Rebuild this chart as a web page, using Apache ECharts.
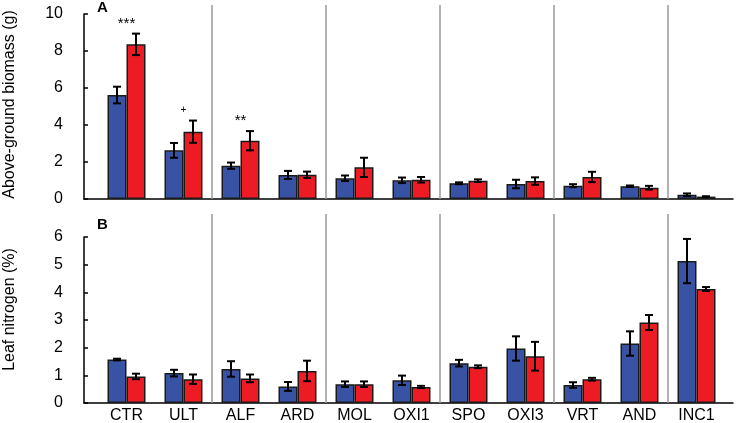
<!DOCTYPE html>
<html>
<head>
<meta charset="utf-8">
<style>
  html, body { margin: 0; padding: 0; background: #fff; }
  #chart { width: 737px; height: 423px; }
</style>
</head>
<body>
<div id="chart"></div>
<script src="https://cdn.jsdelivr.net/npm/echarts@6/dist/echarts.min.js"></script>
<script>

// data
const categories = ['CTR', 'ULT', 'ALF', 'ARD', 'MOL', 'OXI1', 'SPO', 'OXI3', 'VRT', 'AND', 'INC1'];

const biomassBlue    = [5.62, 2.63, 1.80, 1.30, 1.12, 1.01, 0.85, 0.81, 0.72, 0.69, 0.23];
const biomassBlueErr = [0.45, 0.40, 0.17, 0.22, 0.15, 0.15, 0.05, 0.23, 0.08, 0.04, 0.07];
const biomassRed     = [8.36, 3.64, 3.15, 1.31, 1.71, 1.04, 0.99, 0.97, 1.19, 0.61, 0.13];
const biomassRedErr  = [0.58, 0.60, 0.52, 0.17, 0.52, 0.15, 0.07, 0.20, 0.28, 0.10, 0.02];
const biomassSig     = ['***', '+', '**', '', '', '', '', '', '', '', ''];

const nitrogenBlue    = [1.57, 1.08, 1.23, 0.60, 0.68, 0.82, 1.44, 1.97, 0.65, 2.15, 5.13];
const nitrogenBlueErr = [0.03, 0.12, 0.28, 0.16, 0.10, 0.17, 0.12, 0.44, 0.10, 0.44, 0.80];
const nitrogenRed     = [0.96, 0.86, 0.89, 1.16, 0.68, 0.58, 1.31, 1.69, 0.86, 2.91, 4.12];
const nitrogenRedErr  = [0.10, 0.17, 0.14, 0.37, 0.10, 0.04, 0.05, 0.52, 0.05, 0.27, 0.07];

const separatorAfter = ['ULT', 'ARD', 'OXI1', 'OXI3', 'AND'];

// styles
const FONT = "'Liberation Sans', Arial, sans-serif";
const FS = 16;
const BLUE = '#3953a4';
const RED = '#ed1c24';
const BAR_W = 19;

var chart = echarts.init(document.getElementById('chart'));

// pairs [index, mean, err]
function withErr(means, errs) {
  return means.map(function (v, i) { return [i, v, errs[i]]; });
}

// error bar drawn at the centre of the blue (-1) or red (+1) bar
function errorBar(side) {
  return function (params, api) {
    var i = api.value(0), m = api.value(1), e = api.value(2);
    var x = api.coord([i, m])[0] + side * BAR_W / 2;
    var hi = api.coord([i, m + e])[1];
    var lo = api.coord([i, Math.max(m - e, 0)])[1];
    var st = { stroke: '#000', lineWidth: 2 };
    return {
      type: 'group',
      children: [
        { type: 'line', shape: { x1: x, y1: hi, x2: x, y2: lo }, style: st },
        { type: 'line', shape: { x1: x - 4, y1: hi, x2: x + 4, y2: hi }, style: st },
        { type: 'line', shape: { x1: x - 4, y1: lo, x2: x + 4, y2: lo }, style: st }
      ]
    };
  };
}

// grey dividers between groups of treatments
function separator(extraPx) {
  return function (params, api) {
    var i = api.value(0);
    var band = api.size([1, 0])[0];
    var base = api.coord([i, 0]);
    var x = base[0] + band / 2;
    var top = params.coordSys.y - extraPx;
    return {
      type: 'line',
      shape: { x1: x, y1: base[1], x2: x, y2: top },
      style: { stroke: '#9a9a9a', lineWidth: 1.5 }
    };
  };
}

function sigRender(params, api) {
  var i = api.value(0);
  var lab = biomassSig[i];
  if (!lab) return null;
  var top = Math.max(biomassBlue[i] + biomassBlueErr[i], biomassRed[i] + biomassRedErr[i]);
  var p = api.coord([i, top]);
  return {
    type: 'text',
    x: p[0],
    y: p[1] - 10,
    style: {
      text: lab,
      fontFamily: FONT,
      fontSize: lab === '+' ? 10 : 15,
      fill: '#000',
      align: 'center',
      verticalAlign: 'middle'
    }
  };
}

var sepData = separatorAfter.map(function (n) { return [categories.indexOf(n), 0]; });

function catAxis(grid, showLabels) {
  return {
    type: 'category', gridIndex: grid, data: categories,
    axisLine: { show: false }, axisTick: { show: false },
    axisLabel: { show: showLabels, color: '#000', fontFamily: FONT, fontSize: FS, margin: 5, interval: 0 },
    splitLine: { show: false }
  };
}

function valAxis(grid, max, interval, name, namePad) {
  return {
    type: 'value', gridIndex: grid, min: 0, max: max, interval: interval, offset: 14,
    name: name, nameLocation: 'middle', nameGap: 66,
    nameTextStyle: { color: '#000', fontFamily: FONT, fontSize: FS, padding: namePad },
    axisLine: { show: true, lineStyle: { color: '#000', width: 1.5 } },
    axisTick: { show: true, inside: true, length: 4, lineStyle: { color: '#000', width: 1.5 } },
    axisLabel: { color: '#000', fontFamily: FONT, fontSize: FS, margin: 21 },
    splitLine: { show: false }
  };
}

// helper axes that only draw the long baseline
function baseX(grid) {
  return {
    type: 'value', gridIndex: grid, min: 0, max: 1,
    axisLine: { show: true, onZero: false, lineStyle: { color: '#000', width: 1.5 } },
    axisTick: { show: false }, axisLabel: { show: false }, splitLine: { show: false }
  };
}
function hiddenY(grid) {
  return { type: 'value', gridIndex: grid, min: 0, max: 1, show: false };
}

function bars(name, data, color, xi, yi) {
  return {
    type: 'bar', name: name, xAxisIndex: xi, yAxisIndex: yi, data: data,
    barWidth: BAR_W, barGap: '0%',
    itemStyle: { color: color, borderColor: '#1a1a1a', borderWidth: 1.5 },
    silent: true, animation: false
  };
}
function errs(data, side, xi, yi) {
  return {
    type: 'custom', xAxisIndex: xi, yAxisIndex: yi, data: data, z: 5,
    renderItem: errorBar(side), silent: true, animation: false
  };
}

var option = {
  backgroundColor: '#fff',
  animation: false,
  title: [
    { text: 'A', left: 97, top: 0, padding: 0, textStyle: { fontFamily: FONT, fontSize: 15, fontWeight: 'bold', color: '#000' } },
    { text: 'B', left: 97, top: 217, padding: 0, textStyle: { fontFamily: FONT, fontSize: 15, fontWeight: 'bold', color: '#000' } }
  ],
  grid: [
    { left: 98, right: 12, top: 14, height: 185, outerBoundsMode: 'none' },
    { left: 98, right: 12, top: 237, height: 166, outerBoundsMode: 'none' },
    { left: 84, right: 4, top: 14, height: 185, outerBoundsMode: 'none' },
    { left: 84, right: 4, top: 237, height: 166, outerBoundsMode: 'none' }
  ],
  xAxis: [catAxis(0, false), catAxis(1, true), baseX(2), baseX(3)],
  yAxis: [
    valAxis(0, 10, 2, 'Above-ground biomass (g)', [0, 0, 0, 4]),
    valAxis(1, 6, 1, 'Leaf nitrogen (%)', [0, 0, 0, 21]),
    hiddenY(2), hiddenY(3)
  ],
  series: [
    { type: 'custom', xAxisIndex: 0, yAxisIndex: 0, data: sepData, renderItem: separator(9), silent: true, z: 1 },
    { type: 'custom', xAxisIndex: 1, yAxisIndex: 1, data: sepData, renderItem: separator(23), silent: true, z: 1 },

    bars('blue', biomassBlue, BLUE, 0, 0),
    bars('red', biomassRed, RED, 0, 0),
    errs(withErr(biomassBlue, biomassBlueErr), -1, 0, 0),
    errs(withErr(biomassRed, biomassRedErr), 1, 0, 0),
    { type: 'custom', xAxisIndex: 0, yAxisIndex: 0, z: 6, silent: true,
      data: categories.map(function (c, i) { return [i, 0]; }), renderItem: sigRender },

    bars('blue', nitrogenBlue, BLUE, 1, 1),
    bars('red', nitrogenRed, RED, 1, 1),
    errs(withErr(nitrogenBlue, nitrogenBlueErr), -1, 1, 1),
    errs(withErr(nitrogenRed, nitrogenRedErr), 1, 1, 1)
  ]
};

chart.setOption(option);
</script>
</body>
</html>
